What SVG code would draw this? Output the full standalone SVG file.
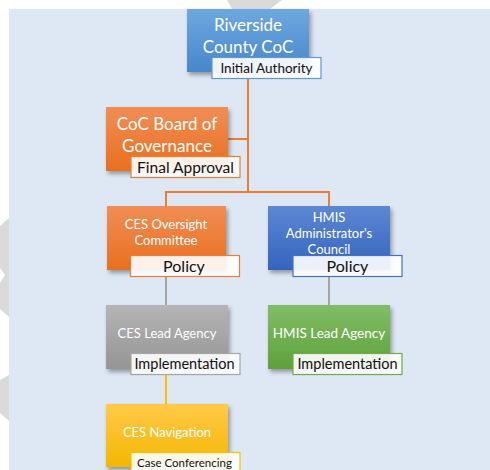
<svg xmlns="http://www.w3.org/2000/svg" width="490" height="470" viewBox="0 0 490 470">
  <defs>
    <linearGradient id="gBlue" x1="0" y1="0" x2="0" y2="1"><stop offset="0" stop-color="#6ea8e0"/><stop offset="1" stop-color="#4886cc"/></linearGradient>
    <linearGradient id="gOrange" x1="0" y1="0" x2="0" y2="1"><stop offset="0" stop-color="#f18d55"/><stop offset="1" stop-color="#e96f1f"/></linearGradient>
    <linearGradient id="gDBlue" x1="0" y1="0" x2="0" y2="1"><stop offset="0" stop-color="#5d87d2"/><stop offset="1" stop-color="#3464be"/></linearGradient>
    <linearGradient id="gGray" x1="0" y1="0" x2="0" y2="1"><stop offset="0" stop-color="#b5b5b5"/><stop offset="1" stop-color="#959595"/></linearGradient>
    <linearGradient id="gGreen" x1="0" y1="0" x2="0" y2="1"><stop offset="0" stop-color="#82bd66"/><stop offset="1" stop-color="#5ea13a"/></linearGradient>
    <linearGradient id="gYellow" x1="0" y1="0" x2="0" y2="1"><stop offset="0" stop-color="#ffca4a"/><stop offset="1" stop-color="#f4b600"/></linearGradient>
    <filter id="sh" x="-10%" y="-10%" width="130%" height="140%">
      <feDropShadow dx="2" dy="3" stdDeviation="2" flood-color="#000" flood-opacity="0.35"/>
    </filter>
  </defs>
  <style>
    .node { filter: url(#sh); }
    .nt { font-family: Lato, "Open Sans", sans-serif; fill: #ffffff; text-anchor: middle; }
    .lab { fill: #ffffff; fill-opacity: 0.9; stroke-width: 1.2; }
    .lt { font-family: Lato, "Open Sans", sans-serif; fill: #111111; text-anchor: middle; }
    .conn { fill: none; stroke-width: 2; }
  </style>

  <!-- background -->
  <rect x="0" y="0" width="490" height="470" fill="#ffffff"/>
  <polygon points="227,0 282,0 270,9 232,9" fill="#dadada"/>
  <polygon points="0,226 9,218 9,317 0,309 0,283 5,275 0,268" fill="#dadada"/>
  <polygon points="0,380 9,375 9,421 0,413" fill="#dadada"/>
  <rect x="9" y="9" width="481" height="461" fill="#dde8f4"/>

  <!-- connectors -->
  <g id="connectors">
    <path class="conn" stroke="#ed7d31" d="M248,79 V192 M228,139 H248 M166,206 V192 H329 V206"/>
    <path class="conn" stroke="#a5a5a5" d="M166,276 V305 M329,276 V305"/>
    <path class="conn" stroke="#ffc000" d="M166,375 V404"/>
  </g>

  <g id="riverside">
    <rect class="node" x="187" y="9" width="122" height="63" fill="url(#gBlue)"/>
    <text class="nt" x="248" y="31" font-size="17">Riverside</text>
    <text class="nt" x="248" y="53" font-size="17">County CoC</text>
    <rect class="lab" x="212" y="57.5" width="109" height="21" stroke="#5b9bd5"/>
    <text class="lt" x="266.5" y="73" font-size="13.5">Initial Authority</text>
  </g>

  <g id="board">
    <rect class="node" x="106" y="107" width="122" height="64" fill="url(#gOrange)"/>
    <text class="nt" x="167" y="130" font-size="17">CoC Board of</text>
    <text class="nt" x="167" y="152" font-size="17">Governance</text>
    <rect class="lab" x="131" y="156.5" width="109" height="21" stroke="#ed7d31"/>
    <text class="lt" x="185.5" y="172.5" font-size="15.5">Final Approval</text>
  </g>

  <g id="ces-oversight">
    <rect class="node" x="107" y="206" width="119" height="64" fill="url(#gOrange)"/>
    <text class="nt" x="166" y="229" font-size="13">CES Oversight</text>
    <text class="nt" x="166" y="245" font-size="13">Committee</text>
    <rect class="lab" x="130.5" y="255.5" width="109" height="21" stroke="#ed7d31"/>
    <text class="lt" x="184" y="271.5" font-size="16">Policy</text>
  </g>

  <g id="hmis-council">
    <rect class="node" x="268" y="206" width="122" height="64" fill="url(#gDBlue)"/>
    <text class="nt" x="329" y="222" font-size="13">HMIS</text>
    <text class="nt" x="329" y="238" font-size="13">Administrator's</text>
    <text class="nt" x="329" y="254" font-size="13">Council</text>
    <rect class="lab" x="293" y="255.5" width="109" height="21" stroke="#4472c4"/>
    <text class="lt" x="347.5" y="271.5" font-size="16">Policy</text>
  </g>

  <g id="ces-lead">
    <rect class="node" x="106" y="305" width="122" height="64" fill="url(#gGray)"/>
    <text class="nt" x="167" y="338" font-size="13">CES Lead Agency</text>
    <rect class="lab" x="131" y="353.5" width="109" height="21" stroke="#a5a5a5"/>
    <text class="lt" x="184.5" y="369" font-size="14.5">Implementation</text>
  </g>

  <g id="hmis-lead">
    <rect class="node" x="268" y="305" width="122" height="64" fill="url(#gGreen)"/>
    <text class="nt" x="329" y="338" font-size="13.5">HMIS Lead Agency</text>
    <rect class="lab" x="293" y="353.5" width="109" height="21" stroke="#70ad47"/>
    <text class="lt" x="347.5" y="369" font-size="14.5">Implementation</text>
  </g>

  <g id="ces-navigation">
    <rect class="node" x="106" y="404" width="122" height="63" fill="url(#gYellow)"/>
    <text class="nt" x="167" y="437" font-size="13">CES Navigation</text>
    <rect class="lab" x="131" y="452.5" width="109" height="21" stroke="#ffc000"/>
    <text class="lt" x="184.5" y="467" font-size="11.5">Case Conferencing</text>
  </g>
</svg>
